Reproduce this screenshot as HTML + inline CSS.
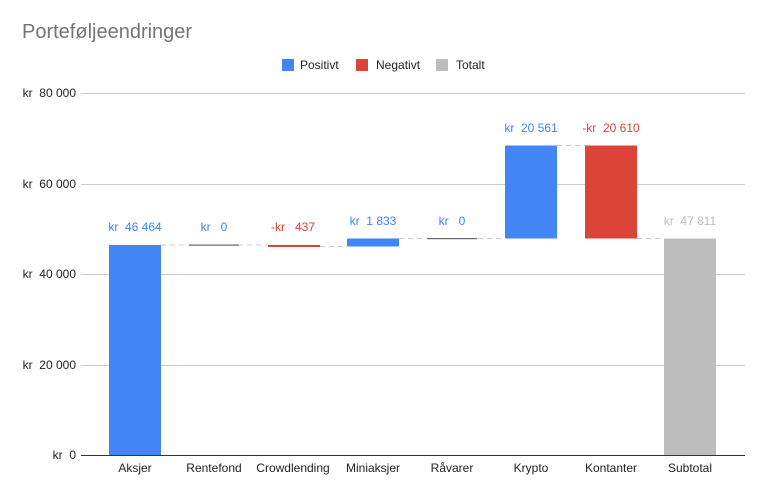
<!DOCTYPE html>
<html><head><meta charset="utf-8"><style>body{margin:0;background:#fff}svg{display:block}text{font-family:"Liberation Sans",Arial,sans-serif;white-space:pre}</style></head><body>
<svg width="766" height="496" viewBox="0 0 766 496" xml:space="preserve">
<rect width="766" height="496" fill="#fff"/>
<text x="22" y="38" font-size="20" fill="#757575">Porteføljeendringer</text>
<rect x="282" y="59" width="12" height="12" fill="#4285f4"/><text x="300" y="69" font-size="12" fill="#222">Positivt</text>
<rect x="356" y="59" width="12" height="12" fill="#db4437"/><text x="376" y="69" font-size="12" fill="#222">Negativt</text>
<rect x="436" y="59" width="12" height="12" fill="#bdbdbd"/><text x="456" y="69" font-size="12" fill="#222">Totalt</text>
<g stroke="#ccc" stroke-width="1">
<line x1="81" x2="745" y1="93.5" y2="93.5"/><line x1="81" x2="745" y1="184.5" y2="184.5"/><line x1="81" x2="745" y1="274.5" y2="274.5"/><line x1="81" x2="745" y1="365.5" y2="365.5"/>
</g>
<line x1="81" x2="745" y1="455.5" y2="455.5" stroke="#333"/>
<g font-size="12" fill="#222" text-anchor="end">
<text x="76" y="97">kr  80 000</text><text x="76" y="188">kr  60 000</text><text x="76" y="278">kr  40 000</text><text x="76" y="369">kr  20 000</text><text x="76" y="459">kr  0</text>
</g>
<g stroke="#ccc" stroke-dasharray="5,4">
<line x1="161" x2="190" y1="245" y2="245"/><line x1="238" x2="268" y1="245" y2="245"/><line x1="320" x2="347" y1="246.5" y2="246.5"/><line x1="399" x2="426" y1="238.5" y2="238.5"/><line x1="478" x2="505" y1="238.5" y2="238.5"/><line x1="557" x2="585" y1="145.5" y2="145.5"/><line x1="637" x2="664" y1="238.5" y2="238.5"/>
</g>
<rect x="109" y="245" width="52" height="210" fill="#4285f4"/>
<rect x="189" y="244.5" width="50" height="1.2" fill="#666"/>
<rect x="268" y="245" width="52" height="2" fill="#db4437"/>
<rect x="347" y="238.5" width="52" height="8" fill="#4285f4"/>
<rect x="427" y="238" width="50" height="1.2" fill="#666"/>
<rect x="505" y="145.5" width="52" height="93" fill="#4285f4"/>
<rect x="585" y="145.5" width="52" height="93" fill="#db4437"/>
<rect x="664" y="238.5" width="52" height="216.5" fill="#bdbdbd"/>
<g font-size="12" text-anchor="middle">
<text x="135" y="231" fill="#4285f4">kr  46 464</text>
<text x="214" y="231" fill="#4285f4">kr   0</text>
<text x="293" y="231" fill="#db4437">-kr   437</text>
<text x="373" y="225" fill="#4285f4">kr  1 833</text>
<text x="452" y="225" fill="#4285f4">kr   0</text>
<text x="531" y="132" fill="#4285f4">kr  20 561</text>
<text x="611" y="132" fill="#db4437">-kr  20 610</text>
<text x="690" y="225" fill="#bdbdbd">kr  47 811</text>
</g>
<g font-size="12" fill="#222" text-anchor="middle">
<text x="135" y="472">Aksjer</text><text x="214" y="472">Rentefond</text><text x="293" y="472">Crowdlending</text><text x="373" y="472">Miniaksjer</text><text x="452" y="472">Råvarer</text><text x="531" y="472">Krypto</text><text x="611" y="472">Kontanter</text><text x="690" y="472">Subtotal</text>
</g>
</svg>
</body></html>
